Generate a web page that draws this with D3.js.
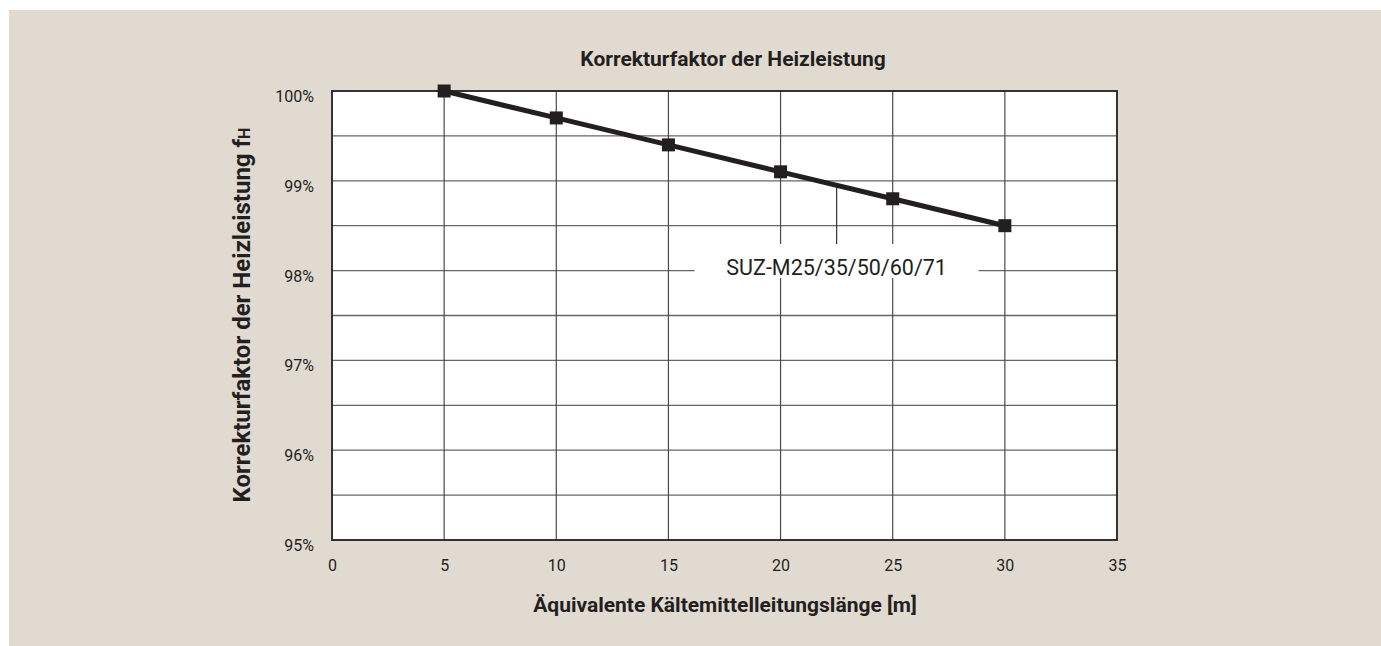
<!DOCTYPE html>
<html>
<head>
<meta charset="utf-8">
<script src="https://cdn.jsdelivr.net/npm/d3@7"></script>
<style>
  body { margin: 0; background: #fff; }
  svg text { font-family: "Liberation Sans Narrow", "Roboto", sans-serif; fill: #231f20; }
</style>
</head>
<body>
<svg id="chart" width="1381" height="646"></svg>
<script>
// data
var lengths = [5, 10, 15, 20, 25, 30];
var factors = [100, 99.7, 99.4, 99.1, 98.8, 98.5];
var xTicks = [0, 5, 10, 15, 20, 25, 30, 35];
var yTicks = [95, 96, 97, 98, 99, 100];
var yGrid = [95.5, 96, 96.5, 97, 97.5, 98, 98.5, 99, 99.5];
var seriesLabel = "SUZ-M25/35/50/60/71";
var labelAt = 22.5;

var margin = { top: 91, left: 332 },
    width = 1117 - 332,
    height = 540 - 91;

var svg = d3.select("#chart");

svg.append("rect")
    .attr("x", 9).attr("y", 10)
    .attr("width", 1381 - 9).attr("height", 646 - 10)
    .attr("fill", "#e1dad1");

var g = svg.append("g")
    .attr("transform", "translate(" + margin.left + "," + margin.top + ")");

var x = d3.scaleLinear().domain([0, 35]).range([0, width]);
var y = d3.scaleLinear().domain([95, 100]).range([height, 0]);

g.append("rect")
    .attr("width", width).attr("height", height)
    .attr("fill", "#fff");

// grid
g.selectAll(".hgrid").data(yGrid).enter().append("line")
    .attr("x1", 0).attr("x2", width)
    .attr("y1", d => y(d)).attr("y2", d => y(d))
    .attr("stroke", "#666").attr("stroke-width", 1.3);

g.selectAll(".vgrid").data(xTicks.slice(1, -1)).enter().append("line")
    .attr("x1", d => x(d)).attr("x2", d => x(d))
    .attr("y1", 0).attr("y2", height)
    .attr("stroke", "#4a4a4a").attr("stroke-width", 1.2);

// label box + leader
var lineY = y(d3.interpolateNumber(factors[3], factors[4])((labelAt - 20) / 5));
g.append("line")
    .attr("x1", x(labelAt)).attr("x2", x(labelAt))
    .attr("y1", lineY).attr("y2", 153)
    .attr("stroke", "#333").attr("stroke-width", 1.2);

g.append("rect")
    .attr("x", x(labelAt) - 142).attr("y", 153)
    .attr("width", 284).attr("height", 34)
    .attr("fill", "#fff");

g.append("text")
    .attr("x", x(labelAt)).attr("y", 184)
    .attr("text-anchor", "middle")
    .attr("font-size", 21.5)
    .text(seriesLabel);

// frame
g.append("rect")
    .attr("width", width).attr("height", height)
    .attr("fill", "none")
    .attr("stroke", "#231f20").attr("stroke-width", 1.8);

// series
var pts = lengths.map((d, i) => [d, factors[i]]);
g.append("path")
    .datum(pts)
    .attr("fill", "none")
    .attr("stroke", "#231f20")
    .attr("stroke-width", 5)
    .attr("d", d3.line().x(d => x(d[0])).y(d => y(d[1])));

g.selectAll(".mark").data(pts).enter().append("rect")
    .attr("x", d => x(d[0]) - 6.5).attr("y", d => y(d[1]) - 6.5)
    .attr("width", 13).attr("height", 13)
    .attr("fill", "#231f20");

// axes
var xAxis = g.append("g")
    .attr("transform", "translate(0," + height + ")")
    .call(d3.axisBottom(x).tickValues(xTicks).tickSize(0).tickPadding(20));
xAxis.select(".domain").remove();
xAxis.selectAll("text").attr("font-size", 16).attr("fill", "#231f20")
    .style("font-family", "'Liberation Sans Narrow', 'Roboto', sans-serif");

var yAxis = g.append("g")
    .call(d3.axisLeft(y).tickValues(yTicks).tickSize(0).tickPadding(18)
        .tickFormat(d => d + "%"));
yAxis.select(".domain").remove();
yAxis.selectAll("text").attr("font-size", 16).attr("fill", "#231f20").attr("dy", "0.65em")
    .style("font-family", "'Liberation Sans Narrow', 'Roboto', sans-serif");

// titles
svg.append("text")
    .attr("x", 733).attr("y", 66)
    .attr("text-anchor", "middle")
    .attr("font-size", 21).attr("font-weight", "bold")
    .text("Korrekturfaktor der Heizleistung");

svg.append("text")
    .attr("x", 725).attr("y", 612)
    .attr("text-anchor", "middle")
    .attr("font-size", 21).attr("font-weight", "bold")
    .text("Äquivalente Kältemittelleitungslänge [m]");

var yt = svg.append("text")
    .attr("transform", "translate(250," + 315 + ") rotate(-90)")
    .attr("text-anchor", "middle")
    .attr("font-size", 24).attr("font-weight", "bold");
yt.append("tspan").text("Korrekturfaktor der Heizleistung f");
yt.append("tspan").attr("font-size", 16).text("H");
</script>
</body>
</html>
